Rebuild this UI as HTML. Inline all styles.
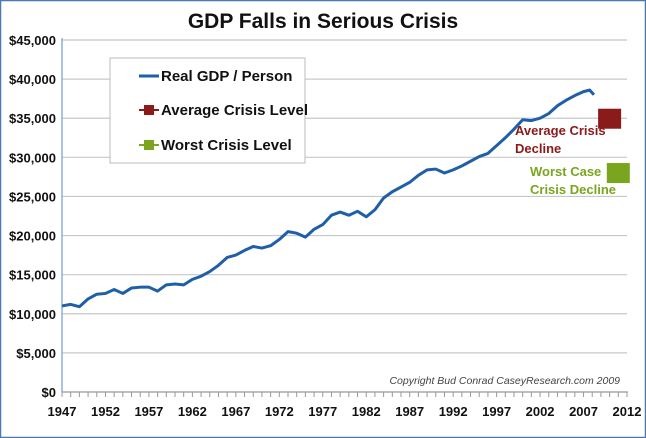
<!DOCTYPE html>
<html><head><meta charset="utf-8"><style>
body{margin:0;background:#fff}
svg{display:block;font-family:"Liberation Sans Narrow","Liberation Sans",sans-serif}
</style></head><body>
<svg id="c" width="646" height="438">
<rect x="0.5" y="0.5" width="645" height="437" fill="#fff" stroke="#4a78b0" stroke-width="1.5"/>
<text x="323" y="28" text-anchor="middle" font-family="Liberation Sans,sans-serif" font-weight="bold" font-size="21" fill="#111">GDP Falls in Serious Crisis</text>
<g id="grid"></g><g id="axes"></g><g id="series"></g>
<g>
<rect x="110" y="58" width="195" height="105" fill="#fff" stroke="#bbb"/>
<line x1="139" y1="76" x2="159" y2="76" stroke="#1f5fa8" stroke-width="3"/>
<text x="161" y="81" font-weight="bold" font-size="15" fill="#111">Real GDP / Person</text>
<line x1="139" y1="110" x2="159" y2="110" stroke="#8b1a1a" stroke-width="2"/><rect x="144" y="105" width="10" height="10" fill="#8b1a1a"/>
<text x="161" y="115" font-weight="bold" font-size="15" fill="#111">Average Crisis Level</text>
<line x1="139" y1="145" x2="159" y2="145" stroke="#7aa51e" stroke-width="2"/><rect x="144" y="140" width="10" height="10" fill="#7aa51e"/>
<text x="161" y="150" font-weight="bold" font-size="15" fill="#111">Worst Crisis Level</text>
</g>
<text x="515" y="135" font-weight="bold" font-size="13" fill="#8b1a1a"><tspan x="515">Average Crisis</tspan><tspan x="515" dy="18">Decline</tspan></text>
<text x="530" y="176" font-weight="bold" font-size="13" fill="#7aa51e"><tspan x="530">Worst Case</tspan><tspan x="530" dy="18">Crisis Decline</tspan></text>
<text x="620" y="384" text-anchor="end" font-family="Liberation Sans,sans-serif" font-style="italic" font-size="10.5" fill="#444">Copyright Bud Conrad  CaseyResearch.com 2009</text>
</svg>
<script>
const years=[1947,1948,1949,1950,1951,1952,1953,1954,1955,1956,1957,1958,1959,1960,1961,1962,1963,1964,1965,1966,1967,1968,1969,1970,1971,1972,1973,1974,1975,1976,1977,1978,1979,1980,1981,1982,1983,1984,1985,1986,1987,1988,1989,1990,1991,1992,1993,1994,1995,1996,1997,1998,1999,2000,2001,2002,2003,2004,2005,2006,2007,2007.7,2008.2];
const gdp=[11000,11200,10900,11900,12500,12600,13100,12600,13300,13400,13400,12900,13700,13800,13700,14400,14800,15400,16200,17200,17500,18100,18600,18400,18700,19500,20500,20300,19800,20800,21400,22600,23000,22600,23100,22400,23300,24800,25600,26200,26800,27700,28400,28500,28000,28400,28900,29500,30100,30500,31500,32500,33600,34800,34700,35000,35600,36600,37300,37900,38400,38600,38000];
const avgCrisis=[2010,35000];
const worstCrisis=[2011,27800];
const yTicks=[0,5000,10000,15000,20000,25000,30000,35000,40000,45000];
const xTicks=[1947,1952,1957,1962,1967,1972,1977,1982,1987,1992,1997,2002,2007,2012];
const NS='http://www.w3.org/2000/svg';
const X=y=>62+(y-1947)*(627-62)/65;
const Y=v=>392-v*(392-40)/45000;
function mk(t,a,p){const e=document.createElementNS(NS,t);for(const k in a)e.setAttribute(k,a[k]);p.appendChild(e);return e;}
const grid=document.getElementById('grid'),axes=document.getElementById('axes'),ser=document.getElementById('series');
yTicks.forEach(v=>{
 if(v>0){const l=mk('line',{x1:62,x2:627,y1:Y(v),y2:Y(v),stroke:'#c8c8c8','stroke-width':1.2},grid);
 
 }
 const t=mk('text',{x:56,y:Y(v)+5,'text-anchor':'end','font-weight':'bold','font-size':13,fill:'#111'},axes);
 t.textContent='$'+v.toLocaleString('en-US');
 
 
});
const ya=mk('line',{x1:62,x2:62,y1:38,y2:392,stroke:'#6f9bd0','stroke-width':1.2},axes);


const xa=mk('line',{x1:62,x2:628,y1:392,y2:392,stroke:'#999','stroke-width':1.2},axes);


for(let y=1947;y<=2012;y++){mk('line',{x1:X(y),x2:X(y),y1:392,y2:397,stroke:'#999'},axes);}
xTicks.forEach(y=>{const t=mk('text',{x:X(y),y:416,'text-anchor':'middle','font-weight':'bold','font-size':13,fill:'#111'},axes);
 t.textContent=y;
 
 });
const p=mk('polyline',{points:years.map((y,i)=>X(y)+','+Y(gdp[i])).join(' '),fill:'none',stroke:'#1f5fa8','stroke-width':3,'stroke-linejoin':'round'},ser);


const s=23;
const a=mk('rect',{x:X(avgCrisis[0])-s/2,y:Y(avgCrisis[1])-s/2+2,width:s,height:s-3,fill:'#8b1a1a'},ser);


const w=mk('rect',{x:X(worstCrisis[0])-s/2,y:Y(worstCrisis[1])-s/2,width:s,height:s-3,fill:'#7aa51e'},ser);


</script>
</body></html>
